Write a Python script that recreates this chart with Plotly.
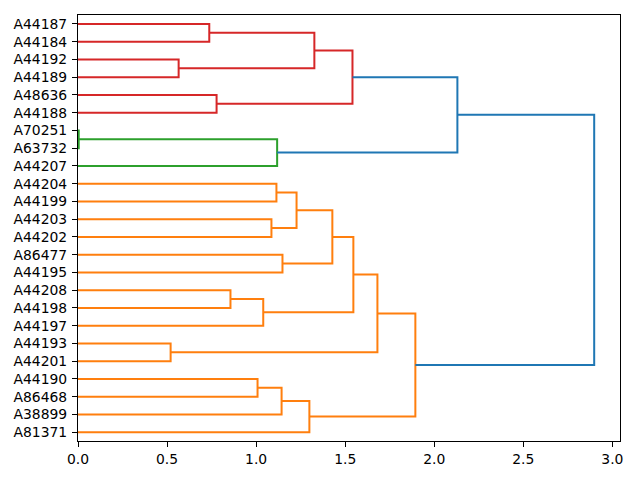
import plotly.graph_objects as go

# Leaf labels, top to bottom
leaves = ["A44187", "A44184", "A44192", "A44189", "A48636", "A44188",
          "A70251", "A63732", "A44207", "A44204", "A44199", "A44203",
          "A44202", "A86477", "A44195", "A44208", "A44198", "A44197",
          "A44193", "A44201", "A44190", "A86468", "A38899", "A81371"]

# Merges: children (leaf labels or earlier merge ids), height, cluster group
merge_a = ["A44187", "A44192", "m0", "A48636", "m2", "A70251", "m5", "m4",
           "A44204", "A44203", "m8", "A86477", "m10", "A44208", "m13", "m12",
           "A44193", "m15", "A44190", "m18", "m19", "m17", "m7"]
merge_b = ["A44184", "A44189", "m1", "A44188", "m3", "A63732", "A44207", "m6",
           "A44199", "A44202", "m9", "A44195", "m11", "A44198", "A44197", "m14",
           "A44201", "m16", "A86468", "A38899", "A81371", "m20", "m21"]
merge_h = [0.737, 0.565, 1.327, 0.778, 1.541, 0.004, 1.118, 2.130,
           1.114, 1.086, 1.227, 1.148, 1.428, 0.856, 1.040, 1.546,
           0.520, 1.681, 1.008, 1.143, 1.299, 1.894, 2.898]
merge_grp = ["C3", "C3", "C3", "C3", "C3", "C2", "C2", "C0",
             "C1", "C1", "C1", "C1", "C1", "C1", "C1", "C1",
             "C1", "C1", "C1", "C1", "C1", "C1", "C0"]

colors = {"C0": "#1f77b4", "C1": "#ff7f0e", "C2": "#2ca02c", "C3": "#d62728"}

n = len(leaves)
pos = {name: 10 * (n - 1 - i) + 5 for i, name in enumerate(leaves)}
hgt = {name: 0.0 for name in leaves}

fig = go.Figure()
for k, (a, b, h, g) in enumerate(zip(merge_a, merge_b, merge_h, merge_grp)):
    ya, yb = pos[a], pos[b]
    xa, xb = hgt[a], hgt[b]
    fig.add_trace(go.Scatter(
        x=[xa, h, h, xb], y=[ya, ya, yb, yb], mode="lines",
        line=dict(color=colors[g], width=2), showlegend=False,
        hoverinfo="skip"))
    pos[f"m{k}"] = (ya + yb) / 2
    hgt[f"m{k}"] = h

font = dict(family="DejaVu Sans", size=13.9, color="black")
fig.update_layout(
    width=640, height=480,
    margin=dict(l=70, r=28, t=7, b=47),
    plot_bgcolor="white", paper_bgcolor="white",
    font=font,
    xaxis=dict(range=[0, max(merge_h) * 1.05], tick0=0, dtick=0.5,
               tickformat=".1f", showgrid=False, zeroline=False,
               showline=True, mirror=True, linecolor="black", linewidth=1,
               ticks="outside", ticklen=5, tickcolor="black", tickfont=font),
    yaxis=dict(range=[0, 10 * n], tickmode="array",
               tickvals=[pos[l] for l in leaves], ticktext=leaves,
               showgrid=False, zeroline=False, ticklabelstandoff=2,
               showline=True, mirror=True, linecolor="black", linewidth=1,
               ticks="outside", ticklen=5, tickcolor="black", tickfont=font),
)
fig.write_html("out.html", config={"displayModeBar": False})
